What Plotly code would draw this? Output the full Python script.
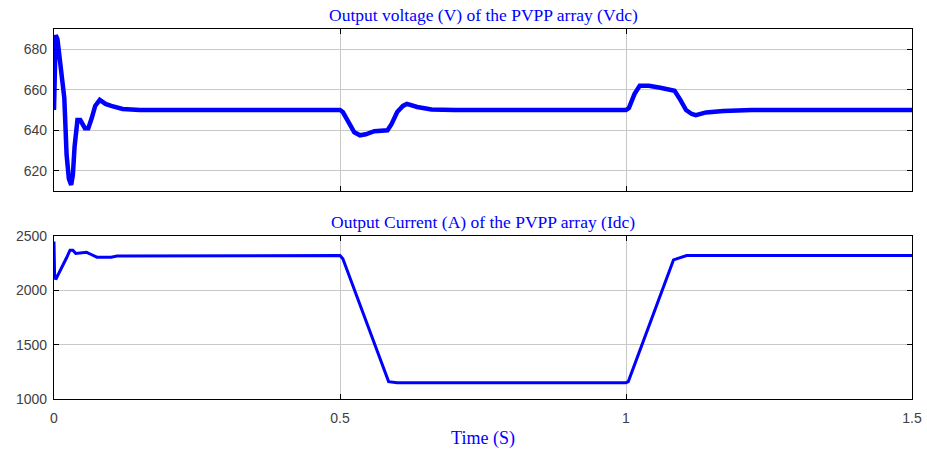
import plotly.graph_objects as go
from plotly.subplots import make_subplots

# Output voltage (V) samples
t_v = [0, 0.001, 0.003, 0.006, 0.01, 0.015, 0.018, 0.02, 0.022, 0.026, 0.03, 0.033, 0.036, 0.041,
       0.046, 0.054, 0.06, 0.066, 0.072, 0.08, 0.09, 0.1, 0.12, 0.15, 0.25, 0.35, 0.45, 0.5,
       0.505, 0.515, 0.525, 0.535, 0.545, 0.56, 0.583, 0.59, 0.6, 0.61, 0.617, 0.635, 0.66, 0.7,
       0.8, 0.9, 1.0, 1.005, 1.015, 1.024, 1.04, 1.06, 1.085, 1.095, 1.105, 1.115, 1.122, 1.14,
       1.17, 1.22, 1.3, 1.4, 1.5]
vdc = [650, 684, 687, 685, 674, 664, 656, 642, 628, 616, 613, 618, 632, 645,
       645, 641, 641, 646, 652, 655, 653, 652, 650.5, 650, 650, 650, 650, 650,
       649, 644, 639, 637.5, 638, 639.5, 640, 643, 649, 652, 653, 651.5, 650.3, 650,
       650, 650, 650, 651, 658, 662, 662, 661, 659.5, 655, 650, 648, 647.5, 648.8,
       649.5, 650, 650, 650, 650]

# Output current (A) samples
t_i = [0, 0.001, 0.003, 0.008, 0.015, 0.022, 0.028, 0.033, 0.038, 0.05, 0.057, 0.065, 0.075,
       0.1, 0.11, 0.5, 0.505, 0.585, 0.6, 1.0, 1.004, 1.083, 1.106, 1.5]
idc = [2450, 2150, 2100, 2150, 2220, 2300, 2370, 2370, 2340, 2345, 2350, 2330, 2305,
       2305, 2315, 2320, 2290, 1160, 1150, 1150, 1160, 2280, 2320, 2320]

x_ticks = [0, 0.5, 1, 1.5]
x_labels = ["0", "0.5", "1", "1.5"]
v_ticks = [620, 640, 660, 680]
i_ticks = [1000, 1500, 2000, 2500]

blue = "#0000ff"
serif = "Liberation Serif, Times New Roman, serif"
sans = "Liberation Sans, Arial, sans-serif"

fig = make_subplots(rows=2, cols=1, shared_xaxes=False, vertical_spacing=0.12)
fig.add_trace(go.Scatter(x=t_v, y=vdc, mode="lines", line=dict(color=blue, width=4.5),
                         showlegend=False), row=1, col=1)
fig.add_trace(go.Scatter(x=t_i, y=idc, mode="lines", line=dict(color=blue, width=3),
                         showlegend=False), row=2, col=1)

axis_common = dict(showline=True, linecolor="black", linewidth=1.2, mirror="ticks",
                   ticks="inside", ticklen=5, tickcolor="black", automargin=False,
                   showgrid=True, gridcolor="#c8c8c8", gridwidth=1, zeroline=False,
                   tickfont=dict(family=sans, size=14, color="#404040"))

fig.update_xaxes(range=[0, 1.5], tickvals=x_ticks, ticktext=x_labels,
                 ticklabelstandoff=6, **axis_common)
fig.update_xaxes(showticklabels=False, row=1, col=1)
fig.update_yaxes(ticklabelstandoff=3, **axis_common)
fig.update_yaxes(range=[610, 690], tickvals=v_ticks, row=1, col=1)
fig.update_yaxes(range=[1000, 2500], tickvals=i_ticks, row=2, col=1)

fig.update_layout(
    width=927, height=449,
    margin=dict(l=54, r=15, t=29, b=50),
    plot_bgcolor="white", paper_bgcolor="white",
    xaxis=dict(domain=[0, 1]),
    yaxis=dict(domain=[0.5622, 1.0]),
    yaxis2=dict(domain=[0.0, 0.4405]),
    xaxis2=dict(title=dict(text="Time (S)", font=dict(family=serif, size=18, color=blue), standoff=11)),
    annotations=[
        dict(text="Output voltage (V) of the PVPP array (Vdc)", xref="paper", yref="paper",
             x=0.5, y=1.0, yanchor="bottom", yshift=2, showarrow=False,
             font=dict(family=serif, size=17.5, color=blue)),
        dict(text="Output Current (A) of the PVPP array (Idc)", xref="paper", yref="paper",
             x=0.5, y=0.4405, yanchor="bottom", yshift=2, showarrow=False,
             font=dict(family=serif, size=17.5, color=blue)),
    ],
)

fig.write_html("out.html", post_script="document.body.style.margin='0';",
               config={"displayModeBar": False})
